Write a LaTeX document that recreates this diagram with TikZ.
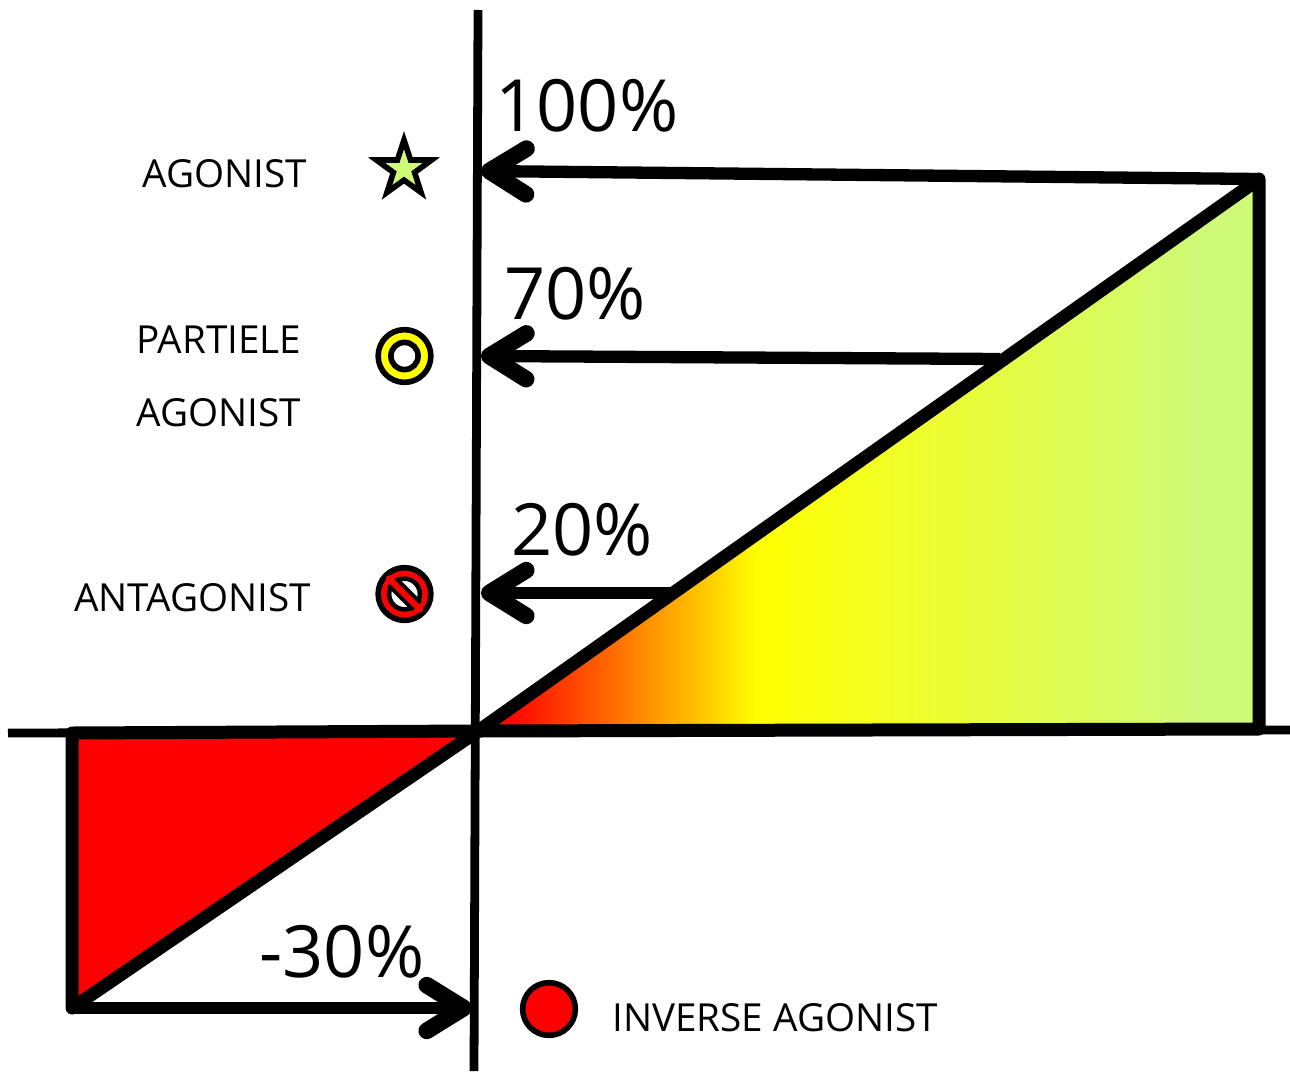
\documentclass[tikz,border=0pt]{standalone}
\usepackage{fontspec}
\setmainfont{Open Sans}
\usepackage{tikz}
\usetikzlibrary{arrows.meta,positioning,calc,shapes.geometric}
\definecolor{ctLime}{HTML}{CFFA78}
\definecolor{ctYellow}{HTML}{FFFF00}
\definecolor{ctRed}{HTML}{FF0000}
\tikzset{
  axisline/.style={line width=5pt},
  edgeline/.style={line width=7.4pt,line join=round,line cap=round},
  levelarrow/.style={line width=7pt,-{Straight Barb[length=21pt,width=26pt,line width=9.5pt,round]}},
  biglabel/.style={font=\fontsize{41}{41}\selectfont,inner sep=0pt},
  namelabel/.style={font=\fontsize{22}{22}\selectfont,inner sep=0pt,anchor=west},
  marker/.style={circle,draw=black,line width=3.2pt,minimum size=30pt,inner sep=0pt}
}

\begin{document}
\begin{tikzpicture}[x=0.02cm,y=-0.02cm]
  \useasboundingbox (0,0) rectangle (1290,1071);
  % gradient wedge
  \coordinate (origin) at (478,731);
  \coordinate (apex) at (1259,179);
  \coordinate (foot) at (1259,729);
  \begin{scope}
    \clip (origin) -- (apex) -- (foot) -- cycle;
    \shade[left color=ctRed,right color=ctYellow] (505,170) rectangle (757,740);
    \fill[ctRed] (470,170) rectangle (506,740);
    \shade[left color=ctYellow,right color=ctLime] (756,170) rectangle (1200,740);
    \fill[ctLime] (1199,170) rectangle (1265,740);
  \end{scope}
  % lower wedge
  \coordinate (low) at (72,1008);
  \coordinate (lowtop) at (72,733);
  \fill[ctRed] (low) -- (lowtop) -- (origin) -- cycle;
  % axes
  \coordinate (ytop) at (478,10);
  \coordinate (ybot) at (474,1071);
  \coordinate (xleft) at (8,733);
  \coordinate (xright) at (1290,730);
  \draw[axisline] (ytop) -- (ybot);
  \draw[axisline] (xleft) -- (xright);
  \draw[edgeline] (origin) -- (apex) -- (foot) -- (origin);
  \draw[edgeline] (low) -- (lowtop) -- (origin) -- cycle;
  % level arrows
  \coordinate (t100) at (481,171);
  \coordinate (t70) at (481,356);
  \coordinate (s70) at (1000,359);
  \coordinate (t20) at (481,593);
  \coordinate (s20) at (672,593);
  \coordinate (tm30) at (472,1008);
  \draw[levelarrow] (apex) -- (t100);
  \draw[levelarrow] (s70) -- (t70);
  \draw[levelarrow] (s20) -- (t20);
  \draw[levelarrow] (low) -- (tm30);
  \node[biglabel] (p100) at (587,106) {100\%};
  \node[biglabel] (p70) at (575,294) {70\%};
  \node[biglabel] (p20) at (582,530) {20\%};
  \node[biglabel] (pm30) at (342,952) {-30\%};
  % legend
  \node[namelabel] (agonist) at (142,174) {AGONIST};
  \node[namelabel] (partial) at (136,340) {PARTIELE};
  \node[namelabel] (partialb) at (136,413) {AGONIST};
  \node[namelabel] (antagonist) at (74,598) {ANTAGONIST};
  \node[namelabel] (inverse) at (612,1018) {INVERSE AGONIST};
  \node[star,star points=5,star point ratio=2.6,draw=black,fill=ctLime,line width=3.2pt,
    minimum size=33pt,inner sep=0pt,miter limit=10] (starmark) at (404,169) {};
  \node[marker,fill=ctYellow] (ringmark) at (404.5,356) {};
  \node[circle,draw=black,fill=white,line width=3.2pt,minimum size=15.5pt,inner sep=0pt] at (ringmark) {};
  \node[marker,fill=ctRed] (blockmark) at (404.5,594) {};
  \node[circle,draw=black,fill=white,line width=2.6pt,minimum size=17.5pt,inner sep=0pt] (blockin) at (blockmark) {};
  \draw[line width=8pt] (blockin.north west) -- (blockin.south east);
  \draw[ctRed,line width=3.6pt,line cap=round] ($(blockin.north west)+(-3,-3)$) -- ($(blockin.south east)+(3,3)$);
  \node[marker,fill=ctRed] (invmark) at (549,1009) {};
\end{tikzpicture}
\end{document}
